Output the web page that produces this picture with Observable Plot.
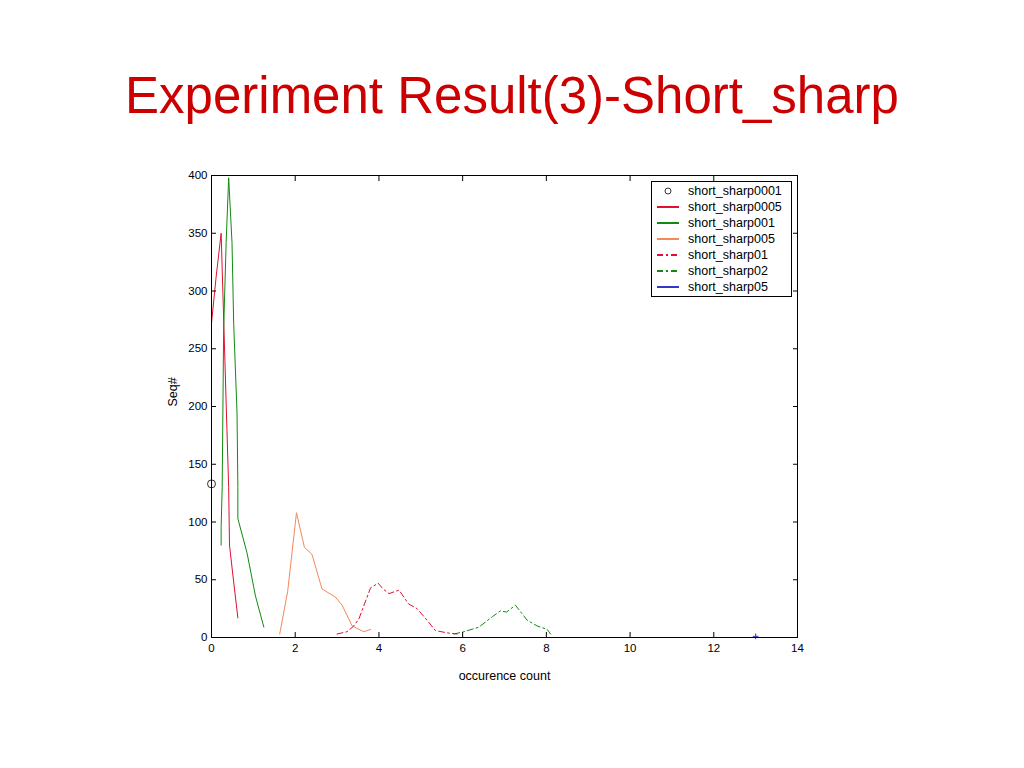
<!DOCTYPE html>
<html><head><meta charset="utf-8">
<script src="https://cdn.jsdelivr.net/npm/d3@7"></script>
<script src="https://cdn.jsdelivr.net/npm/@observablehq/plot@0.6"></script>
<style>
body{margin:0;background:#fff;font-family:"Liberation Sans",Arial,sans-serif;}
#wrap{position:relative;width:1024px;height:768px;overflow:hidden;background:#fff}
#head{height:150px;position:relative}
#title{position:absolute;left:0;width:1024px;top:70px;text-align:center;font-size:51px;line-height:51px;color:#cc0000;white-space:nowrap}
#legend{position:absolute;left:651px;top:181px;width:139px;height:114px;border:1px solid #000;background:#fff}
#legend svg{display:block;overflow:visible}
#chart svg{display:block}
</style></head>
<body><div id="wrap"><div id="head"><div id="title">Experiment Result(3)-Short_sharp</div></div><div id="chart"></div><div id="legend"></div></div>
<script>
// ---- data ----
const xTicks = [0, 2, 4, 6, 8, 10, 12, 14];
const yTicks = [0, 50, 100, 150, 200, 250, 300, 350, 400];
const xLabel = "occurence count";
const yLabel = "Seq#";
const seriesNames = ["short_sharp0001","short_sharp0005","short_sharp001","short_sharp005","short_sharp01","short_sharp02","short_sharp05"];

const s0001X = [0];
const s0001Y = [133];
const s0005X = [0, 0.11, 0.23, 0.32, 0.35, 0.41, 0.43, 0.53, 0.63];
const s0005Y = [272, 312, 350, 240, 203, 130, 80, 48, 17];
const s001X = [0.23, 0.23, 0.255, 0.29, 0.35, 0.41, 0.49, 0.53, 0.61, 0.63, 0.63, 0.85, 1.05, 1.25];
const s001Y = [80, 95, 130, 266, 342, 398, 342, 272, 194, 130, 103, 73, 36, 9];
const s005X = [1.63, 1.82, 2.03, 2.22, 2.40, 2.64, 2.96, 3.12, 3.36, 3.64, 3.80];
const s005Y = [3, 40, 108, 78, 72, 42, 35, 28, 10, 5, 7];
const s01X = [3.0, 3.24, 3.40, 3.52, 3.80, 3.98, 4.1, 4.24, 4.48, 4.71, 4.91, 5.15, 5.35, 5.63, 5.87];
const s01Y = [3, 5, 10, 16, 43, 47, 42, 38, 41, 29, 25, 15, 6, 4, 3];
const s02X = [5.79, 6.03, 6.39, 6.71, 6.90, 7.05, 7.26, 7.54, 7.78, 8.02, 8.1];
const s02Y = [3, 5, 9, 18, 23, 22, 28, 15, 10, 7, 3];
const s05X = [13.0];
const s05Y = [1];

// ---- styles ----
const colors = ["#333333", "#e01030", "#108a10", "#f4885a", "#e01030", "#108a10", "#3535c8"];
const dashes = [null, null, null, null, "6,3,2,3", "6,3,2,3", null];

const seriesX = [s0001X, s0005X, s001X, s005X, s01X, s02X, s05X];
const seriesY = [s0001Y, s0005Y, s001Y, s005Y, s01Y, s02Y, s05Y];
const rows = seriesX.map((xs, k) => xs.map((x, i) => ({series: seriesNames[k], x, y: seriesY[k][i]})));

const font = "Liberation Sans, Arial, sans-serif";
const lineMarks = [1, 2, 3, 4, 5].map(k => Plot.line(rows[k], {x: "x", y: "y", stroke: colors[k], strokeWidth: 1, strokeDasharray: dashes[k]}));

const chart = Plot.plot({
  width: 1024,
  height: 618,
  marginLeft: 211,
  marginRight: 227,
  marginTop: 25,
  marginBottom: 131,
  style: {fontFamily: font, background: "#fff", color: "#000"},
  x: {domain: [0, 14], ticks: xTicks},
  y: {domain: [0, 400], ticks: yTicks},
  marks: [
    ...lineMarks,
    Plot.dot(rows[0], {x: "x", y: "y", r: 4, stroke: colors[0], fill: "none", strokeWidth: 1}),
    Plot.dot(rows[6], {x: "x", y: "y", r: 2, symbol: "plus", stroke: colors[6], strokeWidth: 1}),
    Plot.frame({stroke: "#000", strokeWidth: 1}),
    Plot.axisX({ticks: xTicks, tickSize: 0, tickPadding: 6, label: null, fontSize: 11.5}),
    Plot.axisX({ticks: xTicks, tickSize: -5, tickFormat: () => "", label: null}),
    Plot.axisX({ticks: xTicks, anchor: "top", tickSize: -5, tickFormat: () => "", label: null}),
    Plot.axisY({ticks: yTicks, tickSize: 0, tickPadding: 4, label: null, fontSize: 11.5}),
    Plot.axisY({ticks: yTicks, tickSize: -5, tickFormat: () => "", label: null}),
    Plot.axisY({ticks: yTicks, anchor: "right", tickSize: -5, tickFormat: () => "", label: null}),
    Plot.text([xLabel], {text: d => d, frameAnchor: "bottom", dy: 42, fontSize: 12.5, fill: "#000"}),
    Plot.text([yLabel], {text: d => d, frameAnchor: "left", dx: -39, rotate: -90, fontSize: 12.5, fill: "#000"})
  ]
});
document.getElementById("chart").appendChild(chart);

// ---- legend ----
const lg = d3.select("#legend").append("svg").attr("width", 139).attr("height", 114)
  .style("font-family", font).style("font-size", "12.5px");
seriesNames.forEach((name, k) => {
  const cy = 9 + k * 16;
  if (k === 0) {
    lg.append("circle").attr("cx", 16).attr("cy", cy).attr("r", 3).attr("fill", "none").attr("stroke", colors[0]);
  } else {
    const ln = lg.append("line").attr("x1", 5).attr("x2", 27).attr("y1", cy).attr("y2", cy)
      .attr("stroke", colors[k]).attr("stroke-width", 2);
    if (dashes[k]) ln.attr("stroke-dasharray", dashes[k]);
  }
  lg.append("text").attr("x", 36).attr("y", cy).attr("dy", "0.35em").attr("fill", "#000").text(name);
});
</script>
</body></html>
